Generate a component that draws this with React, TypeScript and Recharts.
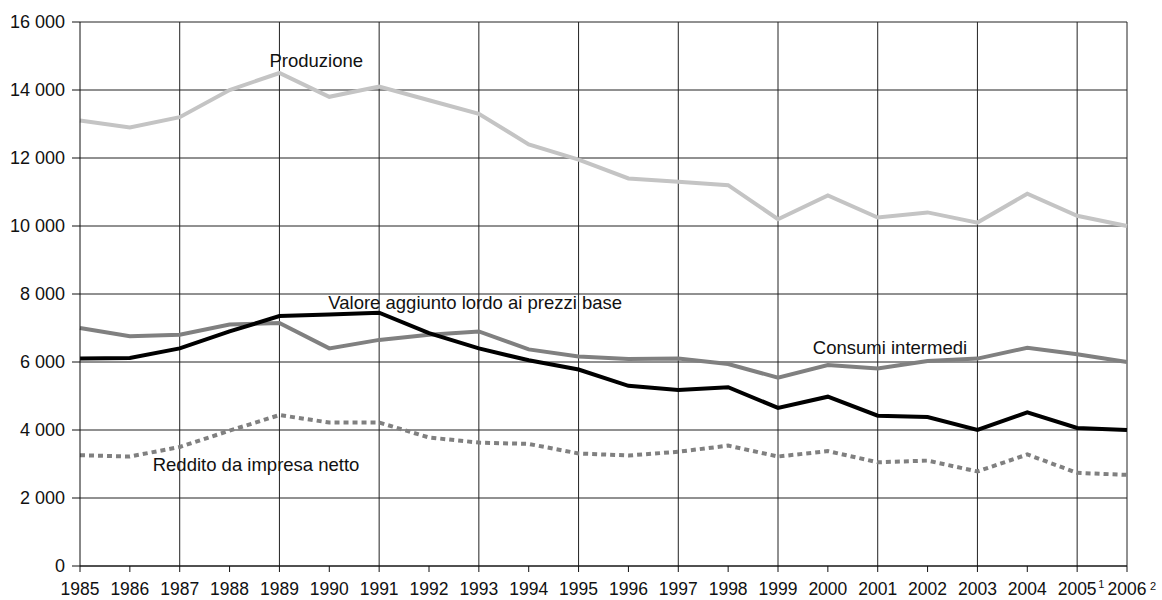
import React from 'react';
import { LineChart, Line, XAxis, YAxis, CartesianGrid, ReferenceLine, ReferenceDot } from 'recharts';

const years = ['1985','1986','1987','1988','1989','1990','1991','1992','1993','1994','1995','1996','1997','1998','1999','2000','2001','2002','2003','2004','2005','2006'];
const produzione = [13100,12900,13200,14000,14500,13800,14100,13700,13300,12400,11950,11400,11300,11200,10200,10900,10250,10400,10100,10950,10300,10000];
const valoreAggiunto = [6100,6120,6400,6900,7350,7400,7450,6850,6400,6050,5780,5300,5180,5260,4650,4980,4420,4380,4000,4520,4060,4000];
const consumiIntermedi = [7000,6760,6800,7100,7150,6400,6650,6800,6900,6370,6160,6090,6100,5940,5540,5910,5810,6030,6100,6420,6230,6000];
const reddito = [3260,3220,3500,3980,4440,4220,4220,3780,3630,3590,3310,3250,3360,3540,3220,3380,3050,3100,2780,3280,2740,2680];

const yTicks = [0,2000,4000,6000,8000,10000,12000,14000,16000];
const gridYears = ['1987','1989','1991','1993','1995','1997','1999','2001','2003','2005'];
const footnotes: Record<string,string> = { '2005': '1', '2006': '2' };

const annotations = [
  { text: 'Produzione', year: '1989', value: 14685, dx: -10 },
  { text: 'Valore aggiunto lordo ai prezzi base', year: '1990', value: 7570, dx: -1 },
  { text: 'Consumi intermedi', year: '2000', value: 6235, dx: -15 },
  { text: 'Reddito da impresa netto', year: '1987', value: 2803, dx: -27 },
];

const data = years.map((y, i) => ({
  year: y,
  produzione: produzione[i],
  valore: valoreAggiunto[i],
  consumi: consumiIntermedi[i],
  reddito: reddito[i],
}));

const FONT = '"Liberation Sans", Arial, Helvetica, sans-serif';

const fmt = (v: number) => {
  if (v < 1000) return String(v);
  return `${Math.floor(v / 1000)} ${String(v % 1000).padStart(3, '0')}`;
};

const XTick = (props: any) => {
  const { x, y, payload } = props;
  const fn = footnotes[payload.value];
  return (
    <g>
      <text x={x} y={y + 23} textAnchor="middle" fontSize={17.5} fontFamily={FONT} fill="#111">{payload.value}</text>
      {fn && (
        <text x={x + (fn === '1' ? 21 : 23)} y={y + (fn === '1' ? 16 : 17.5)} textAnchor="start" fontSize={11} fontFamily={FONT} fill="#111">{fn}</text>
      )}
    </g>
  );
};

export default function App() {
  return (
    <div style={{ position: 'absolute', left: 0, top: 0, background: '#fff' }}>
      <LineChart width={1162} height={600} data={data} margin={{ top: 22, right: 35, left: 0, bottom: 0 }}>
        <CartesianGrid vertical={false} stroke="#222" strokeWidth={1} />
        {gridYears.map((g) => (
          <ReferenceLine key={g} x={g} stroke="#222" strokeWidth={1} />
        ))}
        <ReferenceLine x="2006" stroke="#222" strokeWidth={1} />
        <XAxis
          dataKey="year"
          height={34}
          tickSize={6}
          tickMargin={0}
          interval={0}
          axisLine={{ stroke: '#111' }}
          tickLine={{ stroke: '#111' }}
          tick={<XTick />}
        />
        <YAxis
          width={80}
          domain={[0, 16000]}
          ticks={yTicks}
          tickFormatter={fmt}
          tickSize={8}
          tickMargin={7}
          axisLine={{ stroke: '#111' }}
          tickLine={{ stroke: '#111' }}
          tick={{ fontSize: 18, fontFamily: FONT, fill: '#111' }}
        />
        <Line type="linear" dataKey="reddito" stroke="#808080" strokeWidth={4} strokeDasharray="5 4" dot={false} isAnimationActive={false} />
        <Line type="linear" dataKey="consumi" stroke="#808080" strokeWidth={4} dot={false} isAnimationActive={false} />
        <Line type="linear" dataKey="valore" stroke="#000" strokeWidth={4} dot={false} isAnimationActive={false} />
        <Line type="linear" dataKey="produzione" stroke="#c4c4c4" strokeWidth={4} dot={false} isAnimationActive={false} />
        {annotations.map((a) => (
          <ReferenceDot
            key={a.text}
            x={a.year}
            y={a.value}
            r={0}
            fill="none"
            stroke="none"
            label={(p: any) => (
              <text x={p.viewBox.x + a.dx} y={p.viewBox.y} textAnchor="start" fontSize={18.5} fontFamily={FONT} fill="#111">{a.text}</text>
            )}
          />
        ))}
      </LineChart>
    </div>
  );
}
